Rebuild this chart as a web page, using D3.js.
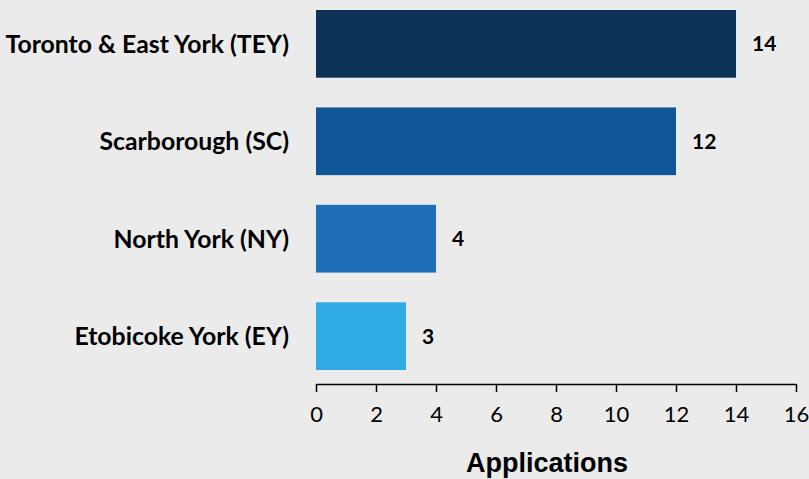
<!DOCTYPE html>
<html>
<head>
<meta charset="utf-8">
<script src="https://cdn.jsdelivr.net/npm/d3@7"></script>
<style>
  body { margin: 0; background: #ebebeb; }
  svg { display: block; }
</style>
</head>
<body>
<div id="chart"></div>
<script>
const districts = ['Toronto & East York (TEY)', 'Scarborough (SC)', 'North York (NY)', 'Etobicoke York (EY)']
const applications = [14, 12, 4, 3]
const barColors = ['#0c3257', '#0e5697', '#1f6fb8', '#2eabe2']
const xTicks = [0, 2, 4, 6, 8, 10, 12, 14, 16]

const width = 809, height = 479

const svg = d3.select('#chart')
  .append('svg')
    .attr('width', width)
    .attr('height', height)

svg.append('rect')
  .attr('width', width)
  .attr('height', height)
  .attr('fill', '#ebebeb')

const x = d3.scaleLinear()
  .domain([0, 16])
  .range([316, 796])

const y = d3.scaleBand()
  .domain(districts)
  .range([10, 370])
  .paddingInner(0.305)
  .paddingOuter(0)

const data = districts.map((d, i) => ({ name: d, value: applications[i], color: barColors[i] }))

// bars
svg.selectAll('rect.bar')
  .data(data)
  .enter()
  .append('rect')
    .attr('class', 'bar')
    .attr('x', x(0))
    .attr('y', d => y(d.name))
    .attr('width', d => x(d.value) - x(0))
    .attr('height', y.bandwidth())
    .attr('fill', d => d.color)

// value labels
svg.selectAll('text.value')
  .data(data)
  .enter()
  .append('text')
    .attr('class', 'value')
    .attr('x', d => x(d.value) + 16)
    .attr('y', d => y(d.name) + y.bandwidth() / 2)
    .attr('dy', '0.36em')
    .style('font-family', 'Lato, sans-serif')
    .style('font-weight', 'bold')
    .style('font-size', '21px')
    .style('fill', '#000')
    .text(d => d.value)

// category labels
svg.selectAll('text.cat')
  .data(data)
  .enter()
  .append('text')
    .attr('class', 'cat')
    .attr('x', 289)
    .attr('y', d => y(d.name) + y.bandwidth() / 2)
    .attr('dy', '0.36em')
    .attr('text-anchor', 'end')
    .style('font-family', 'Lato, sans-serif')
    .style('font-weight', 'bold')
    .style('font-size', '24.8px')
    .style('fill', '#000')
    .text(d => d.name)

// x axis
const xAxis = svg.append('g')
  .attr('transform', 'translate(0,384)')
  .call(d3.axisBottom(x).tickValues(xTicks).tickSize(8).tickSizeOuter(0).tickPadding(14))

xAxis.select('.domain')
  .attr('stroke', '#000')
  .attr('stroke-width', 1.5)
xAxis.selectAll('.tick line')
  .attr('stroke', '#000')
  .attr('stroke-width', 1.5)
xAxis.selectAll('.tick text')
  .style('font-family', 'Lato, sans-serif')
  .style('font-size', '22px')
  .style('fill', '#000')

svg.append('text')
  .attr('x', 547)
  .attr('y', 472)
  .attr('text-anchor', 'middle')
  .style('font-family', '"Liberation Sans", Arial, sans-serif')
  .style('font-weight', 'bold')
  .style('font-size', '27px')
  .style('fill', '#000')
  .text('Applications')
</script>
</body>
</html>
